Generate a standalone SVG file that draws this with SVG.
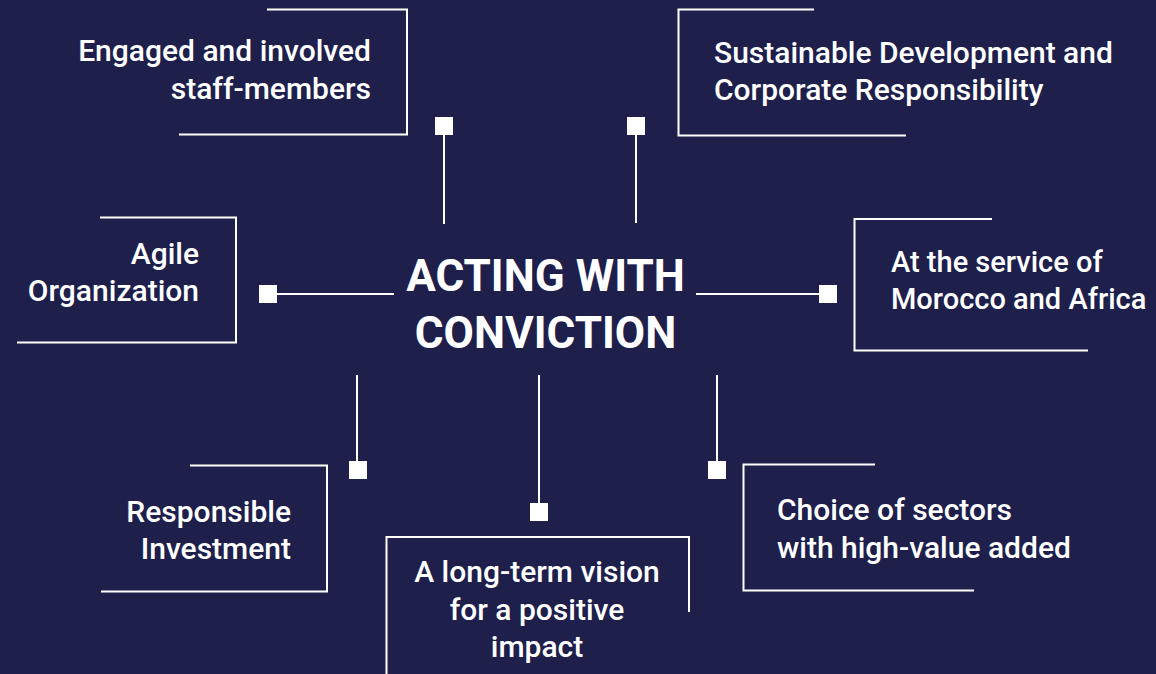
<svg xmlns="http://www.w3.org/2000/svg" width="1156" height="674" viewBox="0 0 1156 674">
  <style>
    .frame { fill: none; stroke: #ffffff; stroke-width: 2; }
    .link { fill: none; stroke: #ffffff; stroke-width: 2; }
    .pin { fill: #ffffff; }
    .label { font-family: Roboto, "Liberation Sans", sans-serif; font-weight: 500; font-size: 30px; fill: #ffffff; }
    .small { font-size: 29px; }
    .title { font-family: Roboto, "Liberation Sans", sans-serif; font-weight: 700; font-size: 44px; fill: #ffffff; text-anchor: middle; }
    .end { text-anchor: end; }
    .mid { text-anchor: middle; }
  </style>

  <rect width="1156" height="674" fill="#1e1f4b"/>

  <!-- central statement -->
  <g id="center">
    <text class="title" x="545.5" y="291">ACTING WITH</text>
    <text class="title" x="545.5" y="348">CONVICTION</text>
  </g>

  <!-- spokes from the centre, each ending in a square pin -->
  <g id="connectors">
    <line class="link" x1="444" y1="135" x2="444" y2="224"/>
    <rect class="pin" x="435" y="117" width="18" height="18"/>

    <line class="link" x1="636" y1="135" x2="636" y2="223"/>
    <rect class="pin" x="627" y="117" width="18" height="18"/>

    <line class="link" x1="277" y1="294" x2="394" y2="294"/>
    <rect class="pin" x="259" y="285" width="18" height="18"/>

    <line class="link" x1="696" y1="294" x2="820" y2="294"/>
    <rect class="pin" x="819" y="285" width="18" height="18"/>

    <line class="link" x1="357" y1="375" x2="357" y2="461"/>
    <rect class="pin" x="349" y="461" width="18" height="18"/>

    <line class="link" x1="539" y1="375" x2="539" y2="503"/>
    <rect class="pin" x="530" y="503" width="18" height="18"/>

    <line class="link" x1="717" y1="375" x2="717" y2="461"/>
    <rect class="pin" x="708" y="461" width="18" height="18"/>
  </g>

  <g id="node-staff">
    <path class="frame" d="M267,9.5 H407 V134.5 H179"/>
    <text class="label end" x="371" y="61">Engaged and involved</text>
    <text class="label end" x="371" y="98.5">staff-members</text>
  </g>

  <g id="node-sustainability">
    <path class="frame" d="M814,9.5 H678.5 V135.5 H906"/>
    <text class="label" x="714" y="63">Sustainable Development and</text>
    <text class="label" x="714" y="100">Corporate Responsibility</text>
  </g>

  <g id="node-agile">
    <path class="frame" d="M100,217.5 H236 V342.5 H17"/>
    <text class="label end" x="199" y="264">Agile</text>
    <text class="label end" x="199" y="301">Organization</text>
  </g>

  <g id="node-africa">
    <path class="frame" d="M992,219 H854.5 V350.5 H1088"/>
    <text class="label small" x="891" y="272">At the service of</text>
    <text class="label small" x="891" y="309">Morocco and Africa</text>
  </g>

  <g id="node-investment">
    <path class="frame" d="M190,465.5 H327 V591.5 H101"/>
    <text class="label end" x="291" y="521.5">Responsible</text>
    <text class="label end" x="291" y="559">Investment</text>
  </g>

  <g id="node-vision">
    <path class="frame" d="M386.5,674 V537 H689 V612"/>
    <text class="label mid" x="537" y="582">A long-term vision</text>
    <text class="label mid" x="537" y="620">for a positive</text>
    <text class="label mid" x="537" y="657">impact</text>
  </g>

  <g id="node-sectors">
    <path class="frame" d="M875,464.5 H743.5 V590.5 H974"/>
    <text class="label" x="777" y="520">Choice of sectors</text>
    <text class="label" x="777" y="558">with high-value added</text>
  </g>
</svg>
